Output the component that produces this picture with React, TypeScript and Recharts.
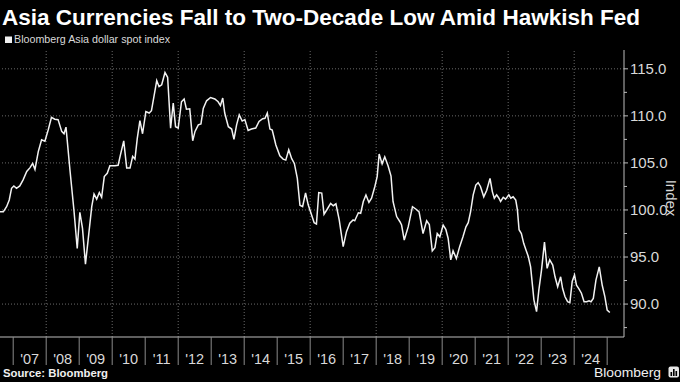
import React from 'react';
import { LineChart, Line, XAxis, YAxis, ReferenceLine } from 'recharts';

// Decimal-year dates and index values
const dates = [
  2006.60, 2006.70, 2006.80, 2006.88, 2006.95, 2007.02, 2007.10, 2007.20, 2007.30, 2007.41,
  2007.51, 2007.59, 2007.66, 2007.76, 2007.86, 2007.96, 2008.06, 2008.16, 2008.26, 2008.36,
  2008.47, 2008.54, 2008.60, 2008.72, 2008.84, 2008.94, 2009.02, 2009.10, 2009.19, 2009.27,
  2009.38, 2009.45, 2009.53, 2009.61, 2009.68, 2009.76, 2009.85, 2009.93, 2010.08, 2010.18,
  2010.25, 2010.35, 2010.44, 2010.54, 2010.62, 2010.69, 2010.76, 2010.84, 2010.92, 2011.02,
  2011.12, 2011.19, 2011.35, 2011.42, 2011.50, 2011.60, 2011.68, 2011.77, 2011.85, 2011.92,
  2012.00, 2012.10, 2012.18, 2012.25, 2012.35, 2012.44, 2012.51, 2012.61, 2012.69, 2012.76,
  2012.86, 2012.98, 2013.11, 2013.21, 2013.28, 2013.35, 2013.41, 2013.52, 2013.62, 2013.69,
  2013.77, 2013.85, 2013.94, 2014.02, 2014.12, 2014.22, 2014.35, 2014.45, 2014.56, 2014.63,
  2014.70, 2014.78, 2014.85, 2014.96, 2015.08, 2015.18, 2015.26, 2015.35, 2015.44, 2015.52,
  2015.61, 2015.69, 2015.77, 2015.86, 2015.94, 2016.04, 2016.12, 2016.19, 2016.26, 2016.35,
  2016.42, 2016.51, 2016.62, 2016.70, 2016.78, 2016.88, 2017.00, 2017.10, 2017.20, 2017.30,
  2017.35, 2017.46, 2017.53, 2017.61, 2017.69, 2017.78, 2017.86, 2017.96, 2018.03, 2018.09,
  2018.18, 2018.26, 2018.36, 2018.45, 2018.51, 2018.62, 2018.72, 2018.77, 2018.85, 2018.97,
  2019.10, 2019.22, 2019.30, 2019.42, 2019.53, 2019.61, 2019.70, 2019.78, 2019.85, 2019.93,
  2020.03, 2020.11, 2020.18, 2020.26, 2020.33, 2020.43, 2020.53, 2020.63, 2020.72, 2020.79,
  2020.86, 2020.94, 2021.02, 2021.09, 2021.16, 2021.26, 2021.35, 2021.45, 2021.52, 2021.58,
  2021.65, 2021.72, 2021.77, 2021.85, 2021.92, 2022.02, 2022.08, 2022.15, 2022.23, 2022.28,
  2022.33, 2022.40, 2022.47, 2022.54, 2022.61, 2022.68, 2022.74, 2022.78, 2022.86, 2022.93,
  2023.01, 2023.10, 2023.18, 2023.26, 2023.35, 2023.42, 2023.50, 2023.59, 2023.65, 2023.72,
  2023.80, 2023.87, 2023.94, 2024.01, 2024.07, 2024.14, 2024.22, 2024.30, 2024.38, 2024.45,
  2024.51, 2024.58, 2024.66, 2024.76, 2024.85, 2024.93, 2025.00, 2025.08,
];

const values = [
  99.8, 99.8, 100.35, 101.06, 102.3, 102.55, 102.3, 102.55, 103.2, 104.1,
  104.5, 104.95, 104.3, 106.2, 107.45, 107.3, 108.5, 109.85, 109.65, 109.6,
  108.35, 108.1, 108.8, 104.25, 100.0, 95.9, 99.75, 98.05, 94.25, 96.8,
  100.35, 101.7, 101.15, 101.85, 101.35, 103.55, 103.9, 104.7, 104.7, 104.75,
  105.85, 107.35, 104.45, 104.45, 105.7, 105.4, 107.6, 109.5, 108.1, 110.45,
  110.3, 110.55, 113.75, 113.1, 113.3, 114.6, 114.1, 108.7, 111.35, 108.85,
  108.7, 111.5, 111.8, 110.7, 110.75, 107.35, 108.35, 109.05, 109.15, 110.8,
  111.6, 111.95, 111.8, 111.5, 111.1, 111.9, 110.3, 108.85, 108.6, 107.5,
  109.05, 110.1, 109.45, 109.6, 108.45, 108.6, 108.7, 109.4, 109.7, 109.75,
  110.3, 108.6, 108.5, 106.9, 105.75, 105.4, 105.3, 106.4, 105.45, 104.95,
  103.35, 100.5, 100.35, 101.8, 100.55, 99.5, 98.65, 98.5, 101.85, 101.8,
  99.55, 100.05, 100.7, 100.45, 100.65, 98.95, 96.1, 97.7, 98.6, 98.95,
  98.85, 99.7, 99.65, 100.9, 101.6, 100.8, 101.25, 102.5, 103.55, 105.95,
  104.9, 105.65, 104.7, 103.6, 100.9, 99.3, 98.75, 98.4, 96.8, 98.2,
  100.35, 100.05, 99.8, 97.5, 98.85, 98.45, 95.65, 96.0, 97.5, 97.15,
  98.4, 97.95, 97.0, 94.7, 95.65, 94.85, 96.1, 97.15, 98.2, 98.65,
  99.8, 101.6, 102.65, 102.9, 102.5, 101.4, 102.1, 103.35, 101.95, 101.25,
  101.6, 101.25, 100.9, 101.35, 101.15, 101.6, 101.25, 101.4, 101.05, 100.0,
  97.9, 97.5, 96.45, 95.75, 95.05, 93.95, 91.85, 90.45, 89.2, 91.5,
  93.6, 96.6, 93.8, 94.7, 94.15, 92.9, 91.85, 92.9, 91.65, 90.8,
  90.25, 90.15, 92.4, 93.1, 92.0, 91.65, 91.15, 90.25, 90.25, 90.35,
  90.25, 90.6, 92.55, 93.95, 92.0, 90.8, 89.35, 89.1,
];

const yearTicks = [2007, 2008, 2009, 2010, 2011, 2012, 2013, 2014, 2015, 2016, 2017, 2018, 2019, 2020, 2021, 2022, 2023, 2024, 2025];
const yearLabels = ["'07", "'08", "'09", "'10", "'11", "'12", "'13", "'14", "'15", "'16", "'17", "'18", "'19", "'20", "'21", "'22", "'23", "'24"];
const gridYears = [2008, 2010, 2012, 2014, 2016, 2018, 2020, 2022, 2024];
const yTicks = [87.5, 90, 92.5, 95, 97.5, 100, 102.5, 105, 107.5, 110, 112.5, 115];
const yLabels = [90, 95, 100, 105, 110, 115];

const title = 'Asia Currencies Fall to Two-Decade Low Amid Hawkish Fed';
const legendLabel = 'Bloomberg Asia dollar spot index';
const sourceText = 'Source: Bloomberg';
const yAxisTitle = 'Index';

const data = dates.map((t, i) => ({ t, v: values[i] }));

const FONT = '"Liberation Sans", Arial, sans-serif';
const AXIS = '#bdbdbd';
const TEXT = '#d9d9d9';
const GRID = '#6a6a6a';

function XTick(props: any) {
  const { x, y, payload } = props;
  const i = yearTicks.indexOf(payload.value);
  const label = yearLabels[i];
  return (
    <g>
      <line x1={x} x2={x} y1={y} y2={y + 28} stroke="#8a8a8a" strokeWidth={1} />
      {label ? (
        <text x={x + 16.5} y={y + 27} textAnchor="middle" fill={TEXT} fontSize={14.5} fontFamily={FONT}>
          {label}
        </text>
      ) : null}
    </g>
  );
}

function YTick(props: any) {
  const { x, y, payload } = props;
  const major = yLabels.includes(payload.value);
  return (
    <g>
      <line x1={x} x2={x + (major ? 4 : 3)} y1={y} y2={y} stroke={AXIS} strokeWidth={1} />
      {major ? (
        <text x={x + 6} y={y} dy="0.36em" fill={TEXT} fontSize={15} fontFamily={FONT}>
          {payload.value.toFixed(1)}
        </text>
      ) : null}
    </g>
  );
}

export default function App() {
  return (
    <div style={{ position: 'fixed', left: 0, top: 0, width: 680, height: 382, background: '#000', overflow: 'hidden' }}>
      <svg width={680} height={382} style={{ position: 'absolute', left: 0, top: 0 }}>
        <text x={2} y={25} fill="#fff" fontSize={22.5} fontWeight="bold" fontFamily={FONT} textLength={638} lengthAdjust="spacingAndGlyphs">
          {title}
        </text>
        <rect x={5} y={36.5} width={7} height={6.5} fill="#f0f0f0" />
        <text x={14} y={43.3} fill={TEXT} fontSize={11} fontFamily={FONT} textLength={156} lengthAdjust="spacingAndGlyphs">
          {legendLabel}
        </text>
        <text x={3} y={377.3} fill="#f0f0f0" fontSize={11} fontWeight="bold" fontFamily={FONT} textLength={105} lengthAdjust="spacingAndGlyphs">
          {sourceText}
        </text>
        <text x={594} y={377} fill="#f0f0f0" fontSize={13.5} fontFamily={FONT} textLength={67} lengthAdjust="spacingAndGlyphs">
          Bloomberg
        </text>
        <rect x={668.5} y={366.5} width={10.5} height={11} rx={2} fill="#e8e8e8" />
        <rect x={670.5} y={372} width={1.6} height={4} fill="#000" />
        <rect x={673} y={369} width={1.6} height={7} fill="#000" />
        <rect x={675.5} y={371} width={1.6} height={5} fill="#000" />
      </svg>
      <div style={{ position: 'absolute', left: 0, top: 0 }}>
        <LineChart width={680} height={382} data={data} margin={{ top: 50, right: 0, bottom: 0, left: 0 }}>
          {yLabels.map((v) => (
            <ReferenceLine key={'h' + v} y={v} stroke={GRID} strokeDasharray="1 2" />
          ))}
          {gridYears.map((yr) => (
            <ReferenceLine key={'v' + yr} x={yr} stroke={GRID} strokeDasharray="1 2" />
          ))}
          <XAxis
            dataKey="t"
            type="number"
            domain={[2006.6, 2025.51]}
            allowDataOverflow
            ticks={yearTicks}
            interval={0}
            height={45}
            tickSize={0}
            tickMargin={0}
            tickLine={false}
            axisLine={{ stroke: AXIS, strokeWidth: 1 }}
            tick={<XTick />}
          />
          <YAxis
            orientation="right"
            type="number"
            domain={[86.5, 117]}
            allowDataOverflow
            ticks={yTicks}
            interval={0}
            width={56}
            tickSize={0}
            tickMargin={0}
            tickLine={false}
            axisLine={{ stroke: AXIS, strokeWidth: 1 }}
            tick={<YTick />}
            label={{
              content: () => (
                <text x={671} y={198} transform="rotate(90 671 198)" textAnchor="middle" dy="0.35em" fill={TEXT} fontSize={15} fontFamily={FONT}>
                  {yAxisTitle}
                </text>
              ),
            }}
          />
          <Line type="linear" dataKey="v" stroke="#f2f2f2" strokeWidth={1.5} dot={false} isAnimationActive={false} />
        </LineChart>
      </div>
    </div>
  );
}
